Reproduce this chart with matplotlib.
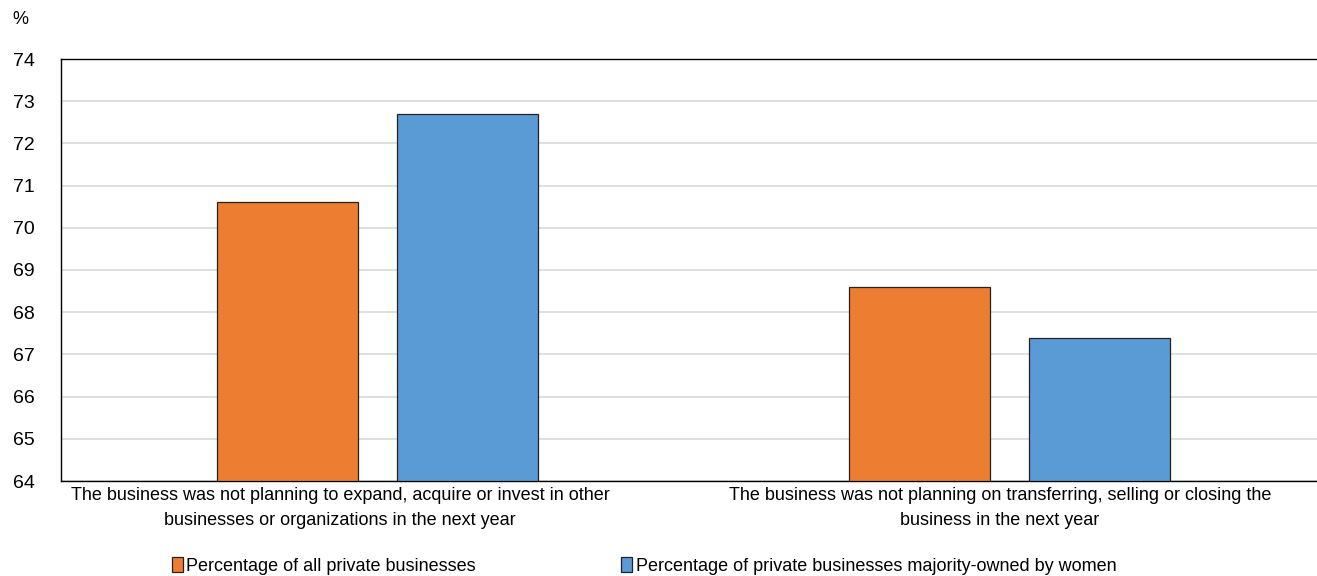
import matplotlib
matplotlib.use("Agg")
import matplotlib.pyplot as plt
import matplotlib.transforms as mtransforms
import numpy as np
from matplotlib.patches import Patch

categories = [
    "The business was not planning to expand, acquire or invest in other\nbusinesses or organizations in the next year",
    "The business was not planning on transferring, selling or closing the\nbusiness in the next year",
]
series_names = [
    "Percentage of all private businesses",
    "Percentage of private businesses majority-owned by women",
]
all_private = [70.6, 68.6]
women_owned = [72.7, 67.4]
yticks = list(range(64, 75))

colors = ["#ED7D31", "#5B9BD5"]

plt.rcParams["font.family"] = ["Liberation Sans Narrow", "Liberation Sans", "DejaVu Sans"]

W, H = 1317, 576
fig = plt.figure(figsize=(W / 100, H / 100), dpi=100)
ax = fig.add_axes([61 / W, 1 - 481 / H, (1326 - 61) / W, (481 - 59) / H])

x = np.arange(len(categories))
width = 0.223
offset = 0.142
ax.bar(x - offset, [v - 64 for v in all_private], width, bottom=64,
       color=colors[0], edgecolor="#222222", linewidth=0.9, zorder=3)
ax.bar(x + offset, [v - 64 for v in women_owned], width, bottom=64,
       color=colors[1], edgecolor="#222222", linewidth=0.9, zorder=3)

ax.set_xlim(-0.5, 1.5)
ax.set_ylim(64, 74)
ax.set_yticks(yticks)
ax.set_yticklabels([str(t) for t in yticks], fontsize=14)
ax.tick_params(axis="y", length=0, pad=19)
ax.tick_params(axis="x", length=0, pad=4)
ax.set_xticks(x)
ax.set_xticklabels(categories, fontsize=13, linespacing=1.62)
# nudge category labels slightly left, as laid out in the source chart
for lbl, dx in zip(ax.get_xticklabels(), [-37, -10]):
    lbl.set_transform(lbl.get_transform() +
                      mtransforms.ScaledTranslation(dx / 100, 0, fig.dpi_scale_trans))
ax.grid(axis="y", color="#d9d9d9", linewidth=1.2, zorder=0)
ax.set_axisbelow(True)
for s in ax.spines.values():
    s.set_color("black")
    s.set_linewidth(1.0)

fig.text(12 / W, 1 - 20 / H, "%", fontsize=13, ha="left", va="center")

handles = [Patch(facecolor=c, edgecolor="#222222", linewidth=0.9) for c in colors]
fig.legend(handles, series_names, loc="center left", bbox_to_anchor=(172 / W, 1 - 566 / H),
           ncol=2, frameon=False, fontsize=13, handlelength=0.6, handleheight=0.9,
           handletextpad=0.2, columnspacing=8.05, borderaxespad=0, borderpad=0)

fig.savefig("out.png", dpi=100)
